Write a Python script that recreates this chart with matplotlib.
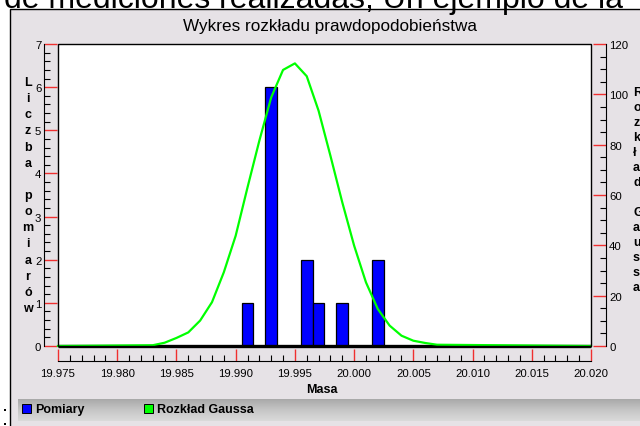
import numpy as np
import matplotlib
matplotlib.use("Agg")
import matplotlib.pyplot as plt
from matplotlib.patches import Rectangle
from matplotlib.ticker import MultipleLocator, FormatStrFormatter

plt.rcParams['font.family'] = ['Liberation Sans', 'DejaVu Sans']

# measurement histogram (bin centres, counts)
mass_bins = [19.991, 19.993, 19.996, 19.997, 19.999, 20.002]
counts = [1, 6, 2, 1, 1, 2]
bin_width = 0.001

# Gaussian curve points (right axis)
gauss_x = [19.975, 19.983, 19.984, 19.985, 19.986, 19.987, 19.988, 19.989,
           19.990, 19.991, 19.992, 19.993, 19.994, 19.995, 19.996, 19.997,
           19.998, 19.999, 20.000, 20.001, 20.002, 20.003, 20.004, 20.005,
           20.006, 20.007, 20.020]
gauss_y = [0.0, 0.3, 1.3, 3.2, 5.4, 10.1, 17.4, 29.3, 43.8, 63.0, 81.6, 98.8,
           109.7, 112.3, 107.2, 93.5, 75.6, 57.1, 39.9, 25.3, 14.7, 8.1, 4.1,
           2.1, 1.2, 0.5, 0.0]

x_ticks = [19.975, 19.980, 19.985, 19.990, 19.995, 20.000, 20.005, 20.010, 20.015, 20.020]

title = "Wykres rozkładu prawdopodobieństwa"
left_label = "Liczba pomiarów"
right_label = "Rozkład Gaussa"
x_label = "Masa"
legend_labels = ["Pomiary", "Rozkład Gaussa"]
caption = "de mediciones realizadas; Un ejemplo de la"

W, H = 640, 427
fig = plt.figure(figsize=(W / 100, H / 100), dpi=100)
fig.patch.set_facecolor("white")


def fx(px):
    return px / W


def fy(py):
    return 1 - py / H


panel_col = "#E6E2E6"
# chart panel
fig.patches.append(Rectangle((fx(10), -0.01), 1 - fx(10) + 0.01, fy(10) + 0.01, transform=fig.transFigure,
                             facecolor=panel_col, edgecolor="black", lw=1.0, zorder=-10))

# caption text above the panel (partially cut by the top edge)
fig.text(fx(4), fy(8), caption, fontsize=23, ha="left", va="baseline", color="black", zorder=-5)

# legend band with vertical gradient
band = fig.add_axes([fx(18), fy(422), 1 - fx(18), (422 - 400) / H])
band.set_zorder(-2)
grad = np.linspace(0, 1, 64).reshape(-1, 1)
band.imshow(grad, aspect="auto", cmap=matplotlib.colors.LinearSegmentedColormap.from_list(
    "g", ["#A9A9A9", "#C6C6C6", "#DADADA"]), extent=[0, 1, 0, 1], origin="upper")
band.set_axis_off()

# main plot
ax = fig.add_axes([fx(58), fy(347), fx(591) - fx(58), (347 - 45) / H])
ax.set_facecolor("white")
ax.bar(mass_bins, counts, width=bin_width, color="#0000FF", edgecolor="black", linewidth=0.9, zorder=3)
ax.plot([x_ticks[0], x_ticks[-1]], [0, 0], color="black", lw=2.4, zorder=4, clip_on=False,
        solid_capstyle="butt")
ax.set_xlim(19.975, 20.020)
ax.set_ylim(0, 7)

ax2 = ax.twinx()
ax2.plot(gauss_x, gauss_y, color="#00FF00", lw=1.6, zorder=5, clip_on=False)
ax2.set_ylim(0, 120)

# axes styling: detached spines with ticks pointing toward the plot
for a in (ax, ax2):
    for s in a.spines.values():
        s.set_visible(False)

ax.spines["left"].set_visible(True)
ax.spines["left"].set_position(("outward", 10))
ax.spines["left"].set_linewidth(0.8)
ax.spines["bottom"].set_visible(True)
ax.spines["bottom"].set_position(("outward", 11))
ax.spines["bottom"].set_linewidth(0.8)
ax2.spines["right"].set_visible(True)
ax2.spines["right"].set_position(("outward", 11))
ax2.spines["right"].set_linewidth(0.8)

ax.set_xticks(x_ticks)
ax.xaxis.set_major_formatter(FormatStrFormatter("%.3f"))
ax.xaxis.set_minor_locator(MultipleLocator(0.001))
ax.yaxis.set_major_locator(MultipleLocator(1))
ax.yaxis.set_minor_locator(MultipleLocator(0.2))
ax2.yaxis.set_major_locator(MultipleLocator(20))
ax2.yaxis.set_minor_locator(MultipleLocator(5))

tick_red = "#F03030"
ax.tick_params(axis="x", which="major", direction="in", length=9, width=1, color=tick_red,
               labelsize=8.2, pad=5, top=False)
ax.tick_params(axis="x", which="minor", direction="in", length=4.5, width=0.8, color="black", top=False)
ax.tick_params(axis="y", which="major", direction="in", length=9.5, width=1, color=tick_red,
               labelsize=8.2, pad=2, right=False)
ax.tick_params(axis="y", which="minor", direction="in", length=4.5, width=0.8, color="black", right=False)
ax2.tick_params(axis="y", which="major", direction="in", length=9.5, width=1, color=tick_red,
                labelsize=8.2, pad=2, left=False)
ax2.tick_params(axis="y", which="minor", direction="in", length=4.5, width=0.8, color="black", left=False)

# plot frame
ax2.add_patch(Rectangle((0, 0), 1, 1, transform=ax2.transAxes, fill=False, edgecolor="black",
                        lw=1.0, zorder=10, clip_on=False))

# title and axis labels
fig.text(fx(330), fy(27), title, fontsize=12.3, ha="center", va="center")
fig.text(fx(322), fy(390), x_label, fontsize=9, fontweight="bold", ha="center", va="center")

y0, step = 83, 16.14
for i, ch in enumerate(left_label):
    if ch != " ":
        fig.text(fx(28), fy(y0 + i * step), ch, fontsize=9, fontweight="bold", ha="center", va="center")

y0r, stepr = 93, 15.0
for i, ch in enumerate(right_label):
    if ch != " ":
        fig.text(fx(633), fy(y0r + i * stepr), ch, fontsize=9, fontweight="bold", ha="left", va="center")

# legend
legend_colors = ["#0000FF", "#00FF00"]
legend_x = [22, 144]
for lx, col, lab in zip(legend_x, legend_colors, legend_labels):
    fig.patches.append(Rectangle((fx(lx), fy(414)), 9 / W, 9 / H, transform=fig.transFigure,
                                 facecolor=col, edgecolor="black", lw=0.7, zorder=5))
    fig.text(fx(lx + 13), fy(410), lab, fontsize=9, fontweight="bold", ha="left", va="center", zorder=5)

# small bullets left of the panel
for by in (411, 425):
    fig.patches.append(Rectangle((fx(4), fy(by + 1)), 2 / W, 2 / H, transform=fig.transFigure,
                                 facecolor="black", edgecolor="none", zorder=5))

fig.savefig("out.png", dpi=100)
